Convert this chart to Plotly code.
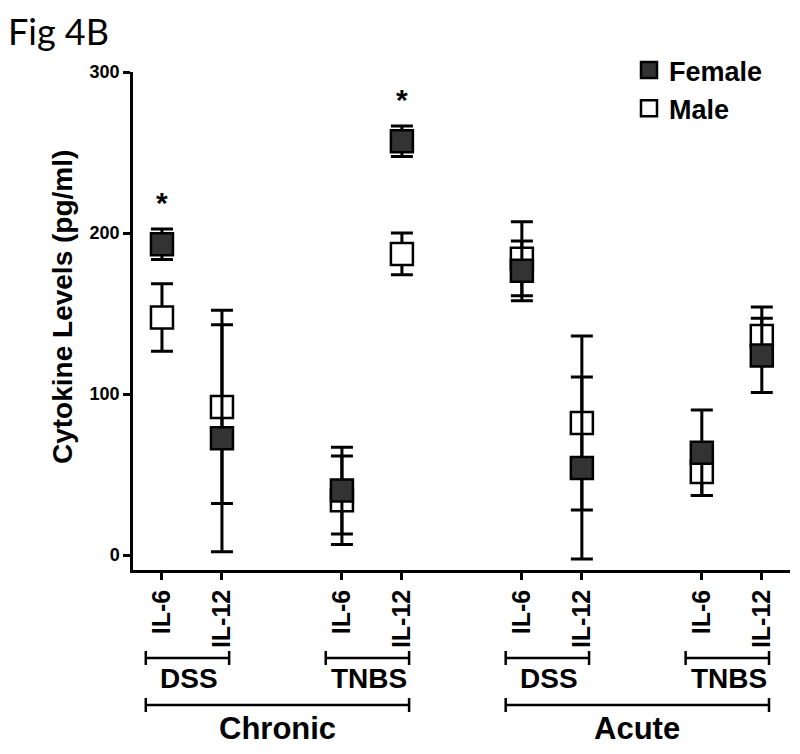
import plotly.graph_objects as go

# ---- data ----
conditions = ["Chronic", "Acute"]
models = ["DSS", "TNBS"]
cytokines = ["IL-6", "IL-12"]

female_mean = [193, 72.5, 40, 257, 176.5, 54, 63.5, 124]
female_err = [9.5, 70.5, 27, 9.5, 18.5, 56.5, 26.5, 23]
male_mean = [147.5, 92, 34, 187, 184, 82, 51.5, 136]
male_err = [21, 60, 27.5, 13, 23, 54, 14.5, 18]
significant = [True, False, False, True, False, False, False, False]

y_ticks = [0, 100, 200, 300]

# ---- layout helpers (page has an 8px body margin) ----
FONT = "Liberation Sans, Arial, Helvetica, sans-serif"
OFF = 8
W, H = 800 - 2 * OFF, 754 - 2 * OFF
PL, PR, PT, PB = 133, 790, 72, 570   # plot area in page pixels
L, T = PL - OFF, PT - OFF
R, B = W - (PR - OFF), H - (PB - OFF)
pw, ph = PR - PL, PB - PT

xpos, xlab = [], []
for g in range(len(conditions) * len(models)):
    for c, name in enumerate(cytokines):
        xpos.append(1 + 3 * g + c)
        xlab.append(name)


def py(px):  # page pixel y -> paper y
    return (PB - px) / ph


def pxx(px):  # page pixel x -> paper x
    return (px - PL) / pw


fig = go.Figure()

fig.add_trace(go.Scatter(
    x=xpos, y=male_mean, mode="markers", name="Male",
    marker=dict(symbol="square", size=22, color="white",
                line=dict(color="black", width=2.5)),
    error_y=dict(type="data", array=male_err, visible=True,
                 color="black", thickness=3, width=11),
))
fig.add_trace(go.Scatter(
    x=xpos, y=female_mean, mode="markers", name="Female",
    marker=dict(symbol="square", size=22, color="#333333",
                line=dict(color="black", width=2.5)),
    error_y=dict(type="data", array=female_err, visible=True,
                 color="black", thickness=3, width=11),
))

annotations = []
shapes = []
# significance stars
for i, s in enumerate(significant):
    if s:
        annotations.append(dict(x=xpos[i], y=female_mean[i] + female_err[i],
                                xref="x", yref="y", text="*", showarrow=False,
                                yanchor="bottom", yshift=8,
                                font=dict(family=FONT, size=30, color="black", weight="bold")))

# brackets
yb1, yb2 = py(658), py(705)
tk = 7 / ph
LW = 2.5
idx = 0
for gi, cond in enumerate(conditions):
    spans = []
    for mi, mod in enumerate(models):
        x0 = xpos[idx] - 0.27
        x1 = xpos[idx + 1] + 0.12
        spans.append((x0, x1))
        shapes.append(dict(type="line", xref="x", yref="paper", x0=x0, x1=x1, y0=yb1, y1=yb1,
                           line=dict(color="black", width=LW)))
        for xx in (x0, x1):
            shapes.append(dict(type="line", xref="x", yref="paper", x0=xx, x1=xx,
                               y0=yb1 - tk, y1=yb1 + tk, line=dict(color="black", width=LW)))
        annotations.append(dict(x=(xpos[idx] + xpos[idx + 1]) / 2 - 0.05, y=py(678),
                                xref="x", yref="paper", text=mod, showarrow=False,
                                yanchor="middle",
                                font=dict(family=FONT, size=28, color="black", weight="bold")))
        idx += 2
    x0, x1 = spans[0][0], spans[-1][1]
    shapes.append(dict(type="line", xref="x", yref="paper", x0=x0, x1=x1, y0=yb2, y1=yb2,
                       line=dict(color="black", width=LW)))
    for xx in (x0, x1):
        shapes.append(dict(type="line", xref="x", yref="paper", x0=xx, x1=xx,
                           y0=yb2 - tk, y1=yb2 + tk, line=dict(color="black", width=LW)))
    annotations.append(dict(x=(x0 + x1) / 2, y=py(728), xref="x", yref="paper",
                            text=cond, showarrow=False, yanchor="middle",
                            font=dict(family=FONT, size=31, color="black", weight="bold")))

# y-axis title
annotations.append(dict(x=pxx(62), y=py(307), xref="paper", yref="paper",
                        text="Cytokine Levels (pg/ml)", textangle=-90, showarrow=False,
                        xanchor="center", yanchor="middle",
                        font=dict(family=FONT, size=28, color="black", weight="bold")))
# figure label
annotations.append(dict(x=pxx(7), y=py(OFF), xref="paper", yref="paper", text="Fig 4B",
                        showarrow=False, xanchor="left", yanchor="top", borderpad=0,
                        font=dict(family="Lato, sans-serif", size=36, color="black")))

fig.update_layout(
    width=W, height=H,
    margin=dict(l=L, r=R, t=T, b=B, autoexpand=False),
    plot_bgcolor="white", paper_bgcolor="white",
    showlegend=True,
    legend=dict(x=pxx(629), y=py(46), xanchor="left", yanchor="top",
                font=dict(family=FONT, size=27, color="black", weight="bold"),
                traceorder="reversed", itemsizing="trace", bgcolor="rgba(0,0,0,0)",
                tracegroupgap=0),
    xaxis=dict(range=[0.517, 11.47], tickvals=xpos, ticktext=xlab, tickangle=-90,
               showline=True, linecolor="black", linewidth=2.5, ticks="outside",
               ticklen=7, tickwidth=2.5, tickcolor="black", showgrid=False, zeroline=False,
               automargin=False,
               tickfont=dict(family=FONT, size=25, color="black", weight="bold")),
    yaxis=dict(range=[-9.3, 300], tickvals=y_ticks, showline=True, linecolor="black",
               linewidth=2.5, ticks="outside", ticklen=7, tickwidth=2.5, tickcolor="black",
               showgrid=False, zeroline=False, automargin=False,
               tickfont=dict(family=FONT, size=18, color="black", weight="bold")),
    annotations=annotations,
    shapes=shapes,
)

fig.write_html("out.html")
